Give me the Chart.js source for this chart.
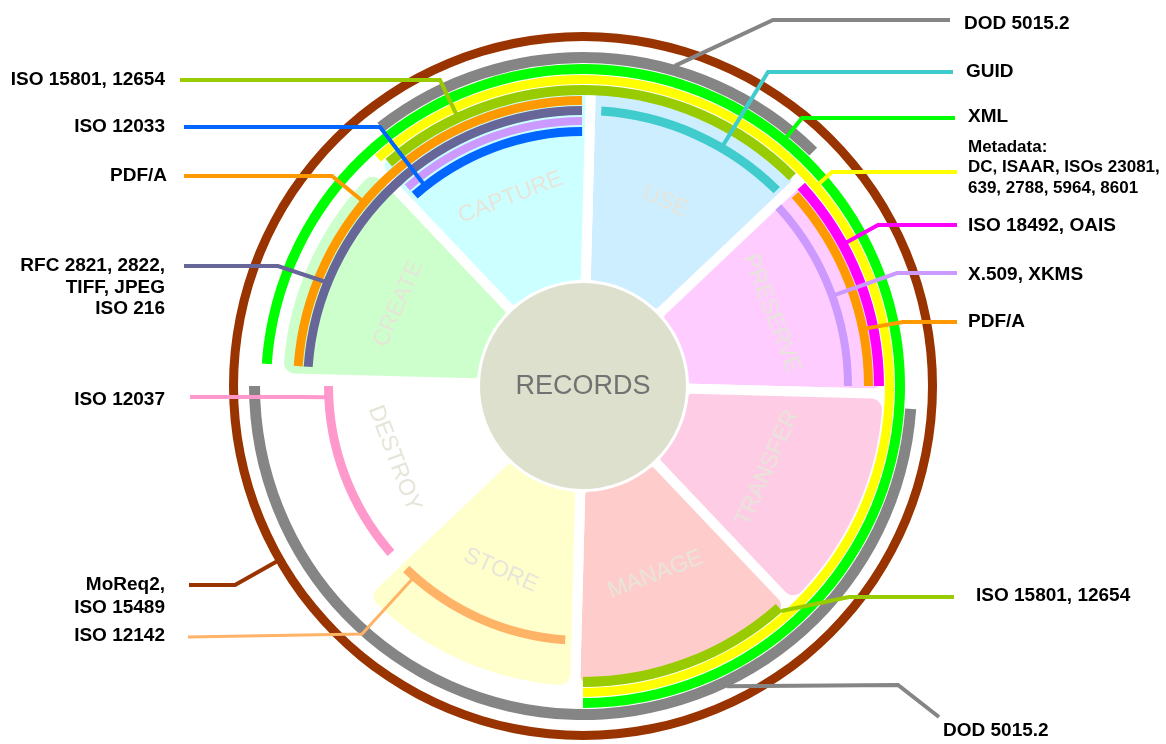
<!DOCTYPE html>
<html>
<head>
<meta charset="utf-8">
<script src="https://cdn.jsdelivr.net/npm/chart.js@4.4.1/dist/chart.umd.min.js"></script>
<style>
  html, body { margin: 0; padding: 0; background: #ffffff; }
  #wrap { position: relative; width: 1166px; height: 744px; overflow: hidden; }
  #wrap canvas { position: absolute; left: 0; top: 0; }
</style>
</head>
<body>
<div id="wrap">
  <canvas id="wedges" width="1166" height="744"></canvas>
  <canvas id="arcs" width="1166" height="744"></canvas>
</div>
<script>
// ---------------- DATA ----------------
// Life-cycle stages, clockwise from the top (each takes an equal share of the circle)
const stages = ['USE', 'PRESERVE', 'TRANSFER', 'MANAGE', 'STORE', 'DESTROY', 'CREATE', 'CAPTURE'];
const stageShare = [1, 1, 1, 1, 1, 1, 1, 1];
const centreLabel = 'RECORDS';

// Standards drawn as arcs: angular extent in degrees, clockwise from the top
const arcNames = ['MoReq2, ISO 15489', 'DOD 5015.2', 'DOD 5015.2', 'XML', 'Metadata',
  'ISO 15801, 12654', 'ISO 18492, OAIS', 'ISO 15801, 12654', 'PDF/A', 'PDF/A',
  'RFC 2821, 2822, TIFF, JPEG, ISO 216', 'GUID', 'X.509, XKMS', 'X.509, XKMS',
  'ISO 12033', 'ISO 12142', 'ISO 12037'];
const arcStart = [0, 322, 94, 274, 318, 319, 47.5, 138.5, 274, 48, 274, 3.8, 318.5, 47.5, 318.6, 184, 229];
const arcEnd   = [360, 44.5, 270, 180, 180, 45, 90, 180, 359.8, 90, 359.8, 44.7, 359.8, 90, 359.8, 224, 270];
// ring (track) on which each arc lies, 0 = innermost
const arcTrack = [8, 7, 7, 6, 5, 4, 4, 4, 3, 3, 2, 2, 1, 1, 0, 0, 0];

// Leader labels: which arc they point to and where along it (degrees)
const leaderText = [
  ['ISO 15801, 12654'], ['ISO 12033'], ['PDF/A'], ['RFC 2821, 2822,', 'TIFF, JPEG', 'ISO 216'],
  ['ISO 12037'], ['MoReq2,', 'ISO 15489'], ['ISO 12142'], ['DOD 5015.2'], ['GUID'], ['XML'],
  ['Metadata:', 'DC, ISAAR, ISOs 23081,', '639, 2788, 5964, 8601'], ['ISO 18492, OAIS'],
  ['X.509, XKMS'], ['PDF/A'], ['ISO 15801, 12654'], ['DOD 5015.2']];
const leaderArc   = [5, 14, 8, 10, 16, 0, 15, 1, 11, 3, 4, 6, 13, 9, 7, 2];
const leaderAngle = [335, 321.7, 310, 292, 267.5, 240.2, 221.5, 16, 30.2, 39.3, 49.4, 61.4, 70.1, 78.5, 138.6, 154.4];

// ---------------- LAYOUT & STYLE ----------------
const stageColors = ['#cceeff', '#ffccff', '#ffcce6', '#ffcccc', '#ffffcc', '#ffffff', '#ccffcc', '#ccffff'];
const arcColors = ['#993300', '#858585', '#858585', '#00ff00', '#ffff00', '#99cc00', '#ff00ff', '#99cc00',
  '#ff9900', '#ff9900', '#666699', '#40cccc', '#cc99ff', '#cc99ff', '#0066ff', '#ffb366', '#ff99cc'];
const trackOuter = [259, 269, 280, 290, 301, 311, 322, 334, 354];
const trackInner = [250, 261, 271, 281, 291, 302, 312, 323, 345];

const leaderElbow = [[440, 80], [380, 127], [332, 176], [278, 266], [300, 397], [235, 585], [362, 634],
  [773, 20], [768, 72], [802, 118], [832, 172], [878, 225], [897, 273], [903, 322], [849, 597], [898, 685]];
const leaderEnd = [[180, 80], [184, 127], [184, 176], [184, 266], [190, 397], [189, 585], [188, 637],
  [950, 20], [953, 72], [955, 118], [957, 172], [957, 225], [957, 273], [957, 322], [954, 597], [939, 717]];
const labelPos = [[165, 80], [165, 127], [167, 176], [165, 266], [165, 400], [165, 585], [165, 636],
  [964, 24], [966, 72], [968, 117], [968, 147], [968, 226], [968, 275], [968, 322], [976, 596], [943, 731]];
const labelAlign = ['right', 'right', 'right', 'right', 'right', 'right', 'right',
  'left', 'left', 'left', 'left', 'left', 'left', 'left', 'left', 'left'];

const FONT = '"Liberation Sans", Arial, Helvetica, sans-serif';
const CLEAR = 'rgba(0,0,0,0)';

// ---------------- WEDGE CHART ----------------
const stageLabelPlugin = {
  id: 'stageLabels',
  afterDatasetsDraw(chart) {
    const ctx = chart.ctx;
    const meta = chart.getDatasetMeta(0);
    ctx.save();
    ctx.font = '23px ' + FONT;
    ctx.fillStyle = '#e7e5d9';
    ctx.textAlign = 'center';
    ctx.textBaseline = 'middle';
    const R = 202;
    meta.data.forEach((el, i) => {
      const mid = (el.startAngle + el.endAngle) / 2;
      const px = el.x + R * Math.cos(mid);
      const py = el.y + R * Math.sin(mid);
      const top = Math.sin(mid) < 0;
      ctx.save();
      ctx.translate(px, py);
      ctx.rotate(top ? mid + Math.PI / 2 : mid - Math.PI / 2);
      ctx.fillText(stages[i], 0, 0);
      ctx.restore();
    });
    const c = chart.getDatasetMeta(1).data[0];
    ctx.font = '27px ' + FONT;
    ctx.fillStyle = '#727272';
    ctx.fillText(centreLabel, c.x, c.y + 1);
    ctx.restore();
  }
};

new Chart(document.getElementById('wedges'), {
  type: 'doughnut',
  data: {
    labels: stages,
    datasets: [
      {
        data: stageShare,
        backgroundColor: stageColors,
        borderColor: '#ffffff',
        borderWidth: 10,
        borderJoinStyle: 'round',
        borderRadius: { outerStart: 16, outerEnd: 16, innerStart: 8, innerEnd: 8 },
        hoverOffset: 0,
        weight: 204,
        order: 1
      },
      {
        data: [1],
        backgroundColor: '#dde0cc',
        borderColor: '#dde0cc',
        borderWidth: 4,
        hoverOffset: 0,
        weight: 101,
        order: 0
      }
    ]
  },
  options: {
    responsive: false,
    animation: false,
    events: [],
    rotation: 1.5,
    cutout: 0,
    radius: 305,
    layout: { padding: { top: 28 } },
    plugins: { legend: { display: false }, tooltip: { enabled: false } }
  },
  plugins: [stageLabelPlugin]
});

// ---------------- ARC (STANDARDS) CHART ----------------
function arcSpan(i) {
  let sp = (((arcEnd[i] - arcStart[i]) % 360) + 360) % 360;
  if (sp === 0) sp = 360;
  const s = sp >= 360 ? -90 : (arcStart[i] >= 270 ? arcStart[i] - 360 : arcStart[i]);
  return [s, s + sp];
}

const arcDatasets = [];
const trackDataset = {};
function spacer(w) {
  return { data: [1], backgroundColor: CLEAR, borderWidth: 0, hoverOffset: 0, weight: w };
}
let rCur = 354;
for (let t = trackOuter.length - 1; t >= 0; t--) {
  if (rCur > trackOuter[t]) arcDatasets.push(spacer(rCur - trackOuter[t]));
  const items = arcTrack.map((tr, i) => (tr === t ? i : -1)).filter(i => i >= 0)
    .map(i => ({ i, seg: arcSpan(i) })).sort((a, b) => a.seg[0] - b.seg[0]);
  const data = [], colors = [];
  let cur = -90;
  items.forEach(it => {
    if (it.seg[0] > cur) { data.push(it.seg[0] - cur); colors.push(CLEAR); }
    data.push(it.seg[1] - it.seg[0]);
    colors.push(arcColors[it.i]);
    cur = it.seg[1];
  });
  if (cur < 270) { data.push(270 - cur); colors.push(CLEAR); }
  trackDataset[t] = arcDatasets.length;
  arcDatasets.push({ data, backgroundColor: colors, borderWidth: 0, hoverOffset: 0, weight: trackOuter[t] - trackInner[t] });
  rCur = trackInner[t];
}
arcDatasets.push(spacer(rCur));

const leaderPlugin = {
  id: 'leaders',
  afterDatasetsDraw(chart) {
    const ctx = chart.ctx;
    ctx.save();
    ctx.lineJoin = 'miter';
    ctx.lineCap = 'butt';
    leaderArc.forEach((ai, k) => {
      const meta = chart.getDatasetMeta(trackDataset[arcTrack[ai]]);
      const el = meta.data[0];
      const rr = el.outerRadius - 1;
      const phi = (leaderAngle[k] - 90) * Math.PI / 180;
      const ax = el.x + rr * Math.cos(phi);
      const ay = el.y + rr * Math.sin(phi);
      ctx.strokeStyle = arcColors[ai];
      ctx.lineWidth = ai === 15 ? 3 : 4;
      ctx.beginPath();
      ctx.moveTo(ax, ay);
      ctx.lineTo(leaderElbow[k][0], leaderElbow[k][1]);
      ctx.lineTo(leaderEnd[k][0], leaderEnd[k][1]);
      ctx.stroke();
    });
    // labels
    ctx.fillStyle = '#000000';
    ctx.textBaseline = 'middle';
    leaderText.forEach((lines, k) => {
      const small = lines.length === 3 && lines[0] === 'Metadata:';
      ctx.font = 'bold ' + (small ? 17 : 19) + 'px ' + FONT;
      ctx.textAlign = labelAlign[k];
      const lh = small ? 20.5 : (lines.length === 2 ? 23 : 21.5);
      lines.forEach((ln, j) => ctx.fillText(ln, labelPos[k][0], labelPos[k][1] + j * lh));
    });
    ctx.restore();
  }
};

new Chart(document.getElementById('arcs'), {
  type: 'doughnut',
  data: { labels: arcNames, datasets: arcDatasets },
  options: {
    responsive: false,
    animation: false,
    events: [],
    rotation: -90,
    cutout: 0,
    radius: 354,
    layout: { padding: { top: 28 } },
    plugins: { legend: { display: false }, tooltip: { enabled: false } }
  },
  plugins: [leaderPlugin]
});
</script>
</body>
</html>
